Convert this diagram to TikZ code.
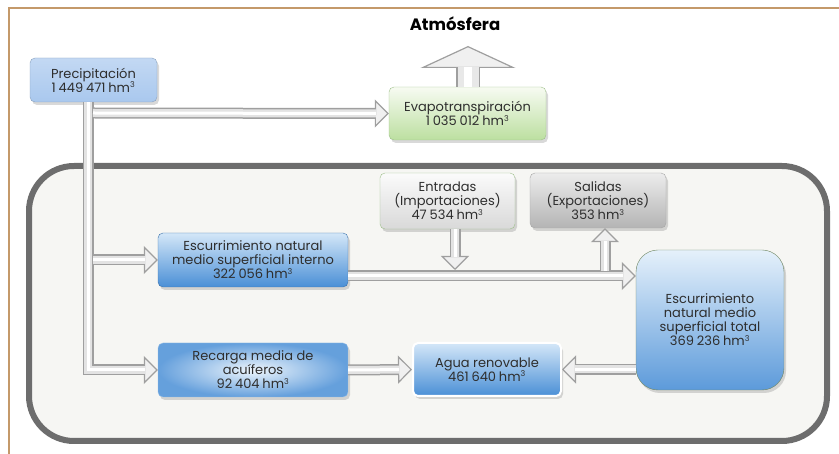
\documentclass[tikz,border=0pt]{standalone}
\usepackage{fontspec}
\setmainfont{Poppins}
\usetikzlibrary{arrows.meta,shadows,positioning}

\definecolor{tan}{HTML}{C4996A}
\definecolor{ink}{HTML}{2E2E2E}
\definecolor{frame}{HTML}{6D6D6D}
\definecolor{paper}{HTML}{F6F6F3}
\definecolor{bluedark}{HTML}{4A8FD6}
\definecolor{bluelight}{HTML}{D4E7F8}
\definecolor{blueprec}{HTML}{A9C8EE}
\definecolor{greenlight}{HTML}{F7FBF2}
\definecolor{greendark}{HTML}{BCDFA0}
\definecolor{greenline}{HTML}{9DBF8A}
\definecolor{greylight}{HTML}{FBFBFB}
\definecolor{greydark}{HTML}{B4B4B4}

\newcommand\gap{\hspace{0.22em}}
\newcommand\hm{\gap hm\textsuperscript{\fontsize{8}{8}\selectfont 3}}

\tikzset{
  box/.style = {rounded corners=5pt, align=center, inner sep=1pt,
                text=ink, font=\fontsize{13}{14}\selectfont,
                drop shadow={opacity=0.3, shadow xshift=2pt, shadow yshift=-3pt}},
  bluebox/.style = {box, draw=bluedark!80!black, top color=bluelight, bottom color=bluedark},
  pipe/.style = {draw=gray!75, line width=11pt,
                 -{Triangle[length=14pt, width=28pt, fill=gray!12, line width=1.2pt]},
                 postaction={draw=gray!22, line width=8pt, -, shorten >=13pt},
                 postaction={draw=white, line width=3pt, -, shorten >=13pt}},
  bigpipe/.style = {draw=gray!75, line width=24pt,
                 -{Triangle[length=22pt, width=95pt, fill=gray!12, line width=1.2pt]},
                 postaction={draw=gray!18, line width=21pt, -, shorten >=21pt},
                 postaction={draw=white, line width=8pt, -, shorten >=21pt}}
}

\begin{document}
\begin{tikzpicture}[x=1pt, y=-1pt]
	\useasboundingbox (0,0) rectangle (839,454);

	% Frame
	\draw[tan, line width=2pt] (9,454) -- (9,8) -- (839,8);
	\draw[frame, line width=6pt, rounded corners=45pt, fill=paper] (29,166) rectangle (827,441);

	\node[font=\bfseries\fontsize{16.5}{18}\selectfont, text=black] (atm) at (455,24) {Atmósfera};
	\coordinate (sky) at (468,46);

	% Boxes
	\node[box, draw=blueprec!80!black, top color=blueprec!70, bottom color=blueprec,
	      minimum width=127pt, minimum height=44pt] (prec) at (93.5,80)
	      {Precipitación\\1\gap449\gap471\hm};
	\node[box, draw=greenline, top color=greenlight, bottom color=greendark,
	      minimum width=157pt, minimum height=53pt] (evapo) at (467.5,113.5)
	      {Evapotranspiración\\1\gap035\gap012\hm};
	\node[bluebox, minimum width=190pt, minimum height=54pt] (interno) at (253,260)
	      {Escurrimiento natural\\medio superficial interno\\322\gap056\hm};
	\node[box, draw=greenline, top color=greylight, bottom color=gray!30,
	      minimum width=135pt, minimum height=56pt] (entradas) at (447.5,201)
	      {Entradas\\(Importaciones)\\47\gap534\hm};
	\node[box, draw=gray!70, top color=gray!15, bottom color=greydark,
	      minimum width=136pt, minimum height=55pt] (salidas) at (598,200.5)
	      {Salidas\\(Exportaciones)\\353\hm};
	\node[bluebox, rounded corners=22pt, draw=greenline!70!black, top color=bluelight!60,
	      bottom color=bluedark!90, minimum width=148pt, minimum height=140pt] (total) at (710,320)
	      {Escurrimiento\\natural medio\\superficial total\\369\gap236\hm};
	\node[bluebox, draw=white, line width=2pt, minimum width=148pt, minimum height=53pt] (agua) at (487,369.5)
	      {Agua renovable\\461\gap640\hm};
	\node[box, draw=bluedark!60, inner color=bluelight!40, outer color=bluedark!85,
	      minimum width=190pt, minimum height=54pt] (recarga) at (253,370)
	      {Recarga media de\\acuíferos\\92\gap404\hm};

	% Pipes
	\coordinate (b1) at (93,113);
	\coordinate (b2) at (93,260);
	\coordinate (inpt) at (455,270);
	\coordinate (outpt) at (605,271);
	\draw[pipe] ([xshift=-5.5pt]prec.south) |- (recarga.west);
	\draw[pipe] (b1) -- (evapo.west);
	\draw[pipe] (b2) -- (interno.west);
	\draw[pipe] ([yshift=-16pt]interno.east) -- ([yshift=-16pt]interno.east -| total.west);
	\draw[pipe] (entradas.south -| inpt) -- (inpt);
	\draw[pipe] (outpt) -- (outpt |- salidas.south);
	\draw[pipe] (recarga.east) -- (agua.west);
	\draw[pipe] (total.west |- agua.east) -- (agua.east);
	\draw[bigpipe] (evapo.north -| sky) -- (sky);
\end{tikzpicture}
\end{document}
